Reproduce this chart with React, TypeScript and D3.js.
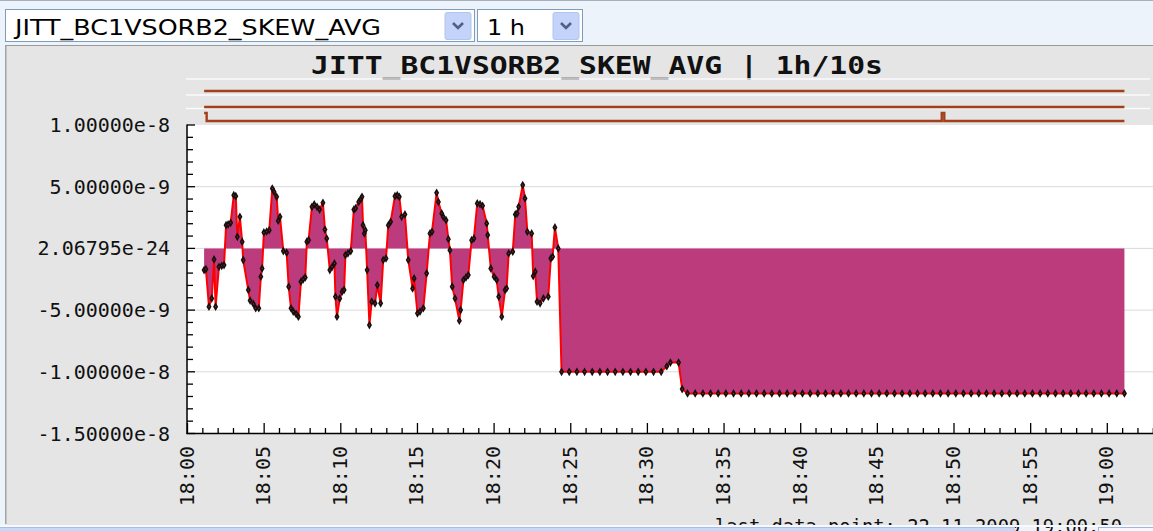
import * as d3 from 'd3';

// sample times are seconds after 18:00:00, values are in units of 1e-9
const oscTimes = [
  65, 72, 84, 95, 104, 110, 123, 134, 143, 151,
  159, 169, 181, 189, 195, 205, 214, 218, 238, 245,
  258, 267, 279, 287, 292, 299, 310, 320, 332, 339,
  349, 355, 362, 375, 388, 396, 405, 414, 425, 434,
  444, 453, 461, 467, 474, 487, 496, 507, 517, 530,
  538, 545, 557, 566, 575, 579, 585, 596, 605, 613,
  618, 628, 639, 651, 658, 670, 678, 683, 687, 692,
  696, 703, 712, 721, 734, 743, 756, 766, 777, 786,
  795, 812, 821, 829, 838, 851, 864, 881, 887, 900,
  910, 923, 936, 949, 957, 975, 982, 995, 1001, 1012,
  1021, 1027, 1036, 1047, 1064, 1069, 1080, 1090, 1099, 1112,
  1121, 1134, 1145, 1155, 1171, 1175, 1187, 1200, 1210, 1218,
  1230, 1243, 1249, 1257, 1273, 1283, 1290, 1296, 1312, 1321,
  1330, 1347, 1353, 1361, 1368, 1380, 1393, 1412, 1422, 1429,
  1438, 1451,
];
const oscValues = [
  -1.76, -1.68, -4.72, -4.05, -0.89, -4.72, -1.49, -1.41, -1.35, 1.88,
  1.94, 2.07, 4.31, 4.23, 0.94, 2.56, 0.54, -0.95, -3.37, -4.23,
  -4.5, -4.85, -4.85, -2.29, -1.62, 1.29, 1.37, 1.48, 4.85, 4.58,
  4.18, 2.24, 2.56, -0.22, -0.35, -3.1, -4.85, -5.12, -5.31, -5.53,
  -2.7, -2.51, -2.35, 0.54, 0.67, 3.37, 3.56, 3.37, 3.15, 3.69,
  1.53, 0.8, -1.76, -1.49, -1.22, -3.91, -5.53, -4.05, -3.51, -3.37,
  -0.54, -0.4, -0.22, 3.15, 3.26, 3.77, 3.99, 4.18, 1.88, 1.21,
  1.48, -1.76, -6.21, -4.32, -4.45, -2.97, -4.45, -0.94, -0.81, 1.88,
  2.15, 4.23, 4.31, 4.18, 2.56, 2.75, -0.94, -3.24, -2.43, -5.26,
  -5.12, -4.85, -2.02, 1.21, 1.35, 4.5, 3.77, 2.83, 2.56, 2.29,
  0.75, -0.14, -3.1, -4.05, -5.86, -5.0, -2.56, -2.35, -2.16, 0.67,
  0.81, 3.64, 3.58, 3.45, 2.02, 1.08, -1.62, -2.29, -2.56, -3.91,
  -5.53, -3.37, -3.24, -0.41, -0.27, 2.75, 2.83, 3.37, 5.13, 4.05,
  1.35, 1.21, -2.24, -1.89, -4.32, -4.45, -4.05, -3.91, -0.81, -0.67,
  1.7, 0.0,
];
const stepTimes = [
  1464, 1494, 1524, 1554, 1584, 1614, 1644, 1674, 1704, 1734,
  1764, 1794, 1824, 1854, 1876, 1890, 1922, 1936,
];
const stepValues = [
  -10, -10, -10, -10, -10, -10, -10, -10, -10, -10,
  -10, -10, -10, -10, -9.55, -9.25, -9.25, -11.4,
];
const tailTimes = [
  1957, 1987, 2017, 2047, 2077, 2107, 2137, 2167, 2197, 2227,
  2257, 2287, 2317, 2347, 2377, 2407, 2437, 2467, 2497, 2527,
  2557, 2587, 2617, 2647, 2677, 2707, 2737, 2767, 2797, 2827,
  2857, 2887, 2917, 2947, 2977, 3007, 3037, 3067, 3097, 3127,
  3157, 3187, 3217, 3247, 3277, 3307, 3337, 3367, 3397, 3427,
  3457, 3487, 3517, 3547, 3577, 3607, 3637, 3667,
];
const tailValues = [
  -11.75, -11.75, -11.75, -11.75, -11.75, -11.75, -11.75, -11.75, -11.75, -11.75,
  -11.75, -11.75, -11.75, -11.75, -11.75, -11.75, -11.75, -11.75, -11.75, -11.75,
  -11.75, -11.75, -11.75, -11.75, -11.75, -11.75, -11.75, -11.75, -11.75, -11.75,
  -11.75, -11.75, -11.75, -11.75, -11.75, -11.75, -11.75, -11.75, -11.75, -11.75,
  -11.75, -11.75, -11.75, -11.75, -11.75, -11.75, -11.75, -11.75, -11.75, -11.75,
  -11.75, -11.75, -11.75, -11.75, -11.75, -11.75, -11.75, -11.75,
];

// status strips above the plot (0 = low, 1 = high)
const statusTimes = [
  [65, 3667],
  [65, 3667],
  [65, 75, 2952, 2962, 3667],
];
const statusLevels = [
  [0, 0],
  [0, 0],
  [1, 0, 1, 0, 0],
];

const yTickValues = [1e-8, 5e-9, 0, -5e-9, -1e-8, -1.5e-8];
const yTickLabels = ['1.00000e-8', '5.00000e-9', '2.06795e-24', '-5.00000e-9', '-1.00000e-8', '-1.50000e-8'];
const xTickLabels = ['18:00', '18:05', '18:10', '18:15', '18:20', '18:25', '18:30', '18:35', '18:40', '18:45', '18:50', '18:55', '19:00'];

const title = 'JITT_BC1VSORB2_SKEW_AVG | 1h/10s';
const channel = 'JITT_BC1VSORB2_SKEW_AVG';
const period = '1 h';
const footer = 'last data point: 22-11-2009 19:00:50';

const W = 1153;
const H = 531;
const mono = '"DejaVu Sans Mono", monospace';

const base = new Date(2009, 10, 22, 18, 0, 0);
const at = (s: number) => new Date(base.getTime() + s * 1000);
const parseHM = d3.timeParse('%H:%M');
const hmDate = (s: string) => {
  const p = parseHM(s)!;
  return new Date(2009, 10, 22, p.getHours(), p.getMinutes(), 0);
};

interface Pt {
  t: Date;
  v: number;
}

const series: Pt[] = [
  ...oscTimes.map((t, i) => ({ t: at(t), v: oscValues[i] * 1e-9 })),
  ...stepTimes.map((t, i) => ({ t: at(t), v: stepValues[i] * 1e-9 })),
  ...tailTimes.map((t, i) => ({ t: at(t), v: tailValues[i] * 1e-9 })),
];

function Dropdown({ x, w, label, textLen }: { x: number; w: number; label: string; textLen: number }) {
  const bx = x + w - 30;
  return (
    <g>
      <rect x={x + 0.5} y={9.5} width={w - 1} height={32} fill="#fff" stroke="#7f9db9" />
      <text x={x + 10} y={35} fontFamily='"DejaVu Sans", sans-serif' fontSize={22} fill="#000"
        textLength={textLen} lengthAdjust="spacingAndGlyphs">{label}</text>
      <rect x={bx} y={12.5} width={26} height={27} rx={2} fill="#c3d3f9" stroke="#b2c5ee" />
      <polyline points={`${bx + 8},${23} ${bx + 13},${28} ${bx + 18},${23}`} fill="none" stroke="#4d6185" strokeWidth={2.6} />
    </g>
  );
}

export default function App() {
  const x = d3.scaleTime().domain([base, at(63 * 60)]).range([187.5, 1153.3]);
  const y = d3.scaleLinear().domain([-1.5e-8, 1e-8]).range([433.5, 125]);

  const line = d3.line<Pt>().x(d => x(d.t)).y(d => y(d.v));
  const area = d3.area<Pt>().x(d => x(d.t)).y0(y(0)).y1(d => y(d.v));

  const minorX = x.ticks(d3.timeMinute.every(1)!);
  const minorY = y.ticks(25);
  const diamond = d3.symbol().type(d3.symbolDiamond).size(22)()!;

  const stripLow = [91, 107, 121];
  const stripLine = d3.line<[number, number]>().curve(d3.curveStepAfter);

  return (
    <div style={{ position: 'absolute', left: 0, top: 0 }}>
      <svg width={W} height={H} style={{ display: 'block' }}>
        {/* page and toolbar */}
        <rect x={0} y={0} width={W} height={H} fill="#edf3fb" />
        <line x1={0} x2={W} y1={0.5} y2={0.5} stroke="#a7b1bd" />
        <Dropdown x={5} w={470} label={channel} textLen={366} />
        <Dropdown x={477} w={106} label={period} textLen={38} />

        {/* panel */}
        <rect x={5} y={45} width={W - 5} height={480} fill="#e5e5e5" />
        <line x1={5} x2={W} y1={45.5} y2={45.5} stroke="#9a9a9a" />
        <line x1={5.75} x2={5.75} y1={45} y2={524} stroke="#a3a3a3" strokeWidth={1.5} />

        <text x={311} y={74} fontFamily={mono} fontWeight="bold" fontSize={24} fill="#111"
          textLength={572} lengthAdjust="spacingAndGlyphs">{title}</text>

        {/* status strips */}
        {[79, 95, 108.5].map(sy => (
          <line key={sy} x1={186} x2={1150} y1={sy} y2={sy} stroke="#fafafa" strokeWidth={1.5} />
        ))}
        {statusTimes.map((ts, i) => (
          <path key={i}
            d={stripLine(ts.map((t, j) => [x(at(t)), stripLow[i] - statusLevels[i][j] * 8] as [number, number]))!}
            fill="none" stroke="#a3401c" strokeWidth={2.4} strokeLinejoin="miter" />
        ))}

        {/* plot area */}
        <rect x={187.5} y={125} width={W - 187.5} height={433.5 - 125} fill="#fff" />
        {yTickValues.slice(1, 5).map(v => (
          <line key={v} x1={188} x2={W} y1={y(v)} y2={y(v)} stroke="#d9d9d9" />
        ))}

        <path d={area(series)!} fill="#bc3b7d" />
        <path d={line(series)!} fill="none" stroke="#ff0000" strokeWidth={2} />
        {series.map((d, i) => (
          <g key={i} transform={`translate(${x(d.t)},${y(d.v)})`}>
            <path d={diamond} fill="#111" />
            <rect x={-0.6} y={-0.6} width={1.2} height={1.2} fill="#d01010" />
          </g>
        ))}

        {/* y axis */}
        <line x1={187} x2={187} y1={124.5} y2={434} stroke="#000" strokeWidth={1.5} />
        {minorY.map(v => {
          const major = yTickValues.some(t => Math.abs(t - v) < 1e-12);
          return <line key={v} x1={187} x2={major ? 195 : 193} y1={y(v)} y2={y(v)} stroke="#000" strokeWidth={1.3} />;
        })}
        {yTickValues.map((v, i) => (
          <text key={v} x={170} y={y(v)} dy="0.35em" textAnchor="end" fontFamily={mono} fontSize={20} fill="#111">
            {yTickLabels[i]}
          </text>
        ))}

        {/* x axis */}
        <line x1={186.5} x2={W} y1={433.5} y2={433.5} stroke="#000" strokeWidth={1.5} />
        {minorX.map(d => {
          const major = d.getMinutes() % 5 === 0;
          return <line key={+d} x1={x(d)} x2={x(d)} y1={433.5} y2={major ? 423 : 428} stroke="#000" strokeWidth={1.3} />;
        })}
        {xTickLabels.map(s => (
          <text key={s} transform={`translate(${x(hmDate(s)) - 1},446) rotate(-90)`} dy="0.35em" textAnchor="end"
            fontFamily={mono} fontSize={20} fill="#111">{s}</text>
        ))}

        {/* footer, mostly hidden under the status bar */}
        <text x={715} y={533} fontFamily={mono} fontSize={19} fill="#111" textLength={407} lengthAdjust="spacingAndGlyphs">
          {footer}
        </text>
        <rect x={0} y={525} width={W} height={2} fill="#f7f9fc" />
        <rect x={0} y={527} width={1015} height={4} fill="#c7d7f7" />
        <line x1={0} x2={1015} y1={527.5} y2={527.5} stroke="#a9bde9" />
        <rect x={1098.5} y={527.5} width={60} height={6} fill="#f6f8fc" stroke="#a4b6dc" />
      </svg>
    </div>
  );
}
